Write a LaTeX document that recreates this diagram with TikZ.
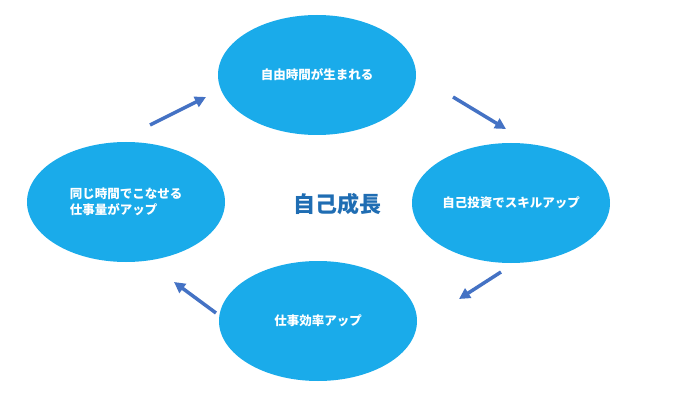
\documentclass[tikz,border=0pt]{standalone}
\usepackage{fontspec}
\setmainfont{Noto Sans CJK JP}
\usetikzlibrary{arrows.meta,shapes.geometric}
\definecolor{cyclecyan}{HTML}{1AABEA}
\definecolor{arrowblue}{HTML}{4472C4}
\definecolor{titleblue}{HTML}{1F6DB3}

\begin{document}
\begin{tikzpicture}[
  x=1pt,y=-1pt,
  >={Triangle[length=11pt,width=11pt]},
  stage/.style={ellipse,fill=cyclecyan,minimum width=198pt,minimum height=120pt,inner sep=0pt,align=left,text=white,font=\bfseries\fontsize{12.5}{16}\selectfont},
  title/.style={text=titleblue,font=\bfseries\fontsize{22}{26}\selectfont},
  cyclearrow/.style={draw=arrowblue,line width=3.5pt,->}
]
  \useasboundingbox (0,0) rectangle (680,401);

  \node[title] (center) at (337,204) {自己成長};

  \node[stage] (free) at (317,75) {自由時間が生まれる};
  \node[stage] (invest) at (511,203) {自己投資でスキルアップ};
  \node[stage] (eff) at (318,321) {仕事効率アップ};
  \node[stage] (more) at (126,202) {同じ時間でこなせる\\仕事量がアップ};

  % arrows between the stages
  \coordinate (a1s) at (150,125); \coordinate (a1e) at (206,97);
  \coordinate (a2s) at (453,97);  \coordinate (a2e) at (506,129);
  \coordinate (a3s) at (501,272); \coordinate (a3e) at (459,299);
  \coordinate (a4s) at (216,313); \coordinate (a4e) at (174,282);
  \draw[cyclearrow] (a1s) -- (a1e);
  \draw[cyclearrow] (a2s) -- (a2e);
  \draw[cyclearrow] (a3s) -- (a3e);
  \draw[cyclearrow] (a4s) -- (a4e);
\end{tikzpicture}
\end{document}
